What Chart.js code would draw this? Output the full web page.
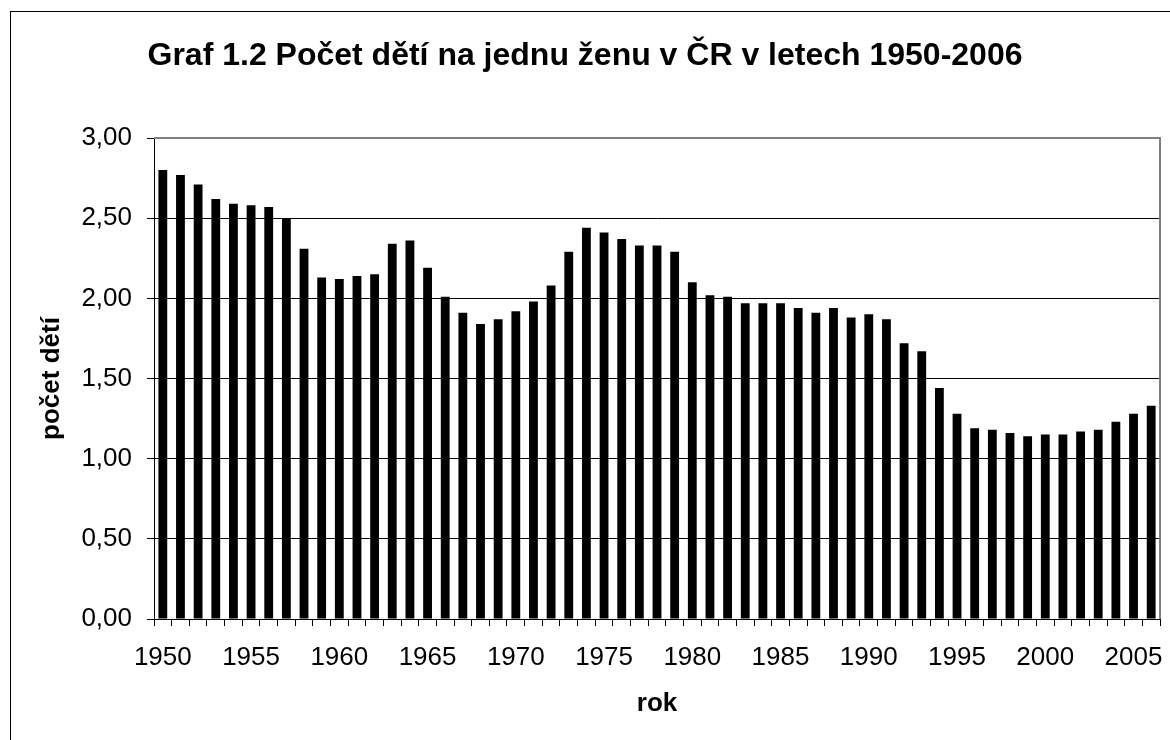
<!DOCTYPE html>
<html>
<head>
<meta charset="utf-8">
<script src="https://cdn.jsdelivr.net/npm/chart.js@4"></script>
<style>
  html, body { margin: 0; padding: 0; background: #fff; overflow: hidden; }
  #frame { position: absolute; left: 10px; top: 11px; width: 2000px; height: 2000px; border: 1px solid #000; box-sizing: border-box; }
  #c { position: absolute; left: 0; top: 0; }
</style>
</head>
<body>
<div id="frame"></div>
<canvas id="c" width="1170" height="740"></canvas>
<script>
const titleText = "Graf 1.2 Počet dětí na jednu ženu v ČR v letech 1950-2006";
const yTitle = "počet dětí";
const xTitle = "rok";
const years = ["1950","1951","1952","1953","1954","1955","1956","1957","1958","1959",
  "1960","1961","1962","1963","1964","1965","1966","1967","1968","1969",
  "1970","1971","1972","1973","1974","1975","1976","1977","1978","1979",
  "1980","1981","1982","1983","1984","1985","1986","1987","1988","1989",
  "1990","1991","1992","1993","1994","1995","1996","1997","1998","1999",
  "2000","2001","2002","2003","2004","2005","2006"];
const children = [2.80,2.77,2.71,2.62,2.59,2.58,2.57,2.50,2.31,2.13,
  2.12,2.14,2.15,2.34,2.36,2.19,2.01,1.91,1.84,1.87,
  1.92,1.98,2.08,2.29,2.44,2.41,2.37,2.33,2.33,2.29,
  2.10,2.02,2.01,1.97,1.97,1.97,1.94,1.91,1.94,1.88,
  1.90,1.87,1.72,1.67,1.44,1.28,1.19,1.18,1.16,1.14,
  1.15,1.15,1.17,1.18,1.23,1.28,1.33];
const xTickLabels = ["1950","1955","1960","1965","1970","1975","1980","1985","1990","1995","2000","2005"];
const yTicks = [0, 0.5, 1, 1.5, 2, 2.5, 3];

const FONT = "'Liberation Sans', Arial, sans-serif";

const plotFrame = {
  id: 'plotFrame',
  afterDraw(chart) {
    const a = chart.chartArea, ctx = chart.ctx;
    ctx.save();
    ctx.strokeStyle = '#808080';
    ctx.lineWidth = 2;
    ctx.beginPath();
    ctx.moveTo(a.left, a.top);
    ctx.lineTo(a.right, a.top);
    ctx.lineTo(a.right, a.bottom);
    ctx.stroke();
    ctx.restore();
  }
};

new Chart(document.getElementById('c'), {
  type: 'bar',
  data: {
    labels: years,
    datasets: [{
      data: children,
      backgroundColor: '#000',
      borderWidth: 0,
      barPercentage: 0.5,
      categoryPercentage: 1.0
    }]
  },
  options: {
    responsive: false,
    animation: false,
    devicePixelRatio: 1,
    layout: { padding: { left: 10, right: 10, top: 0, bottom: 0 } },
    plugins: {
      legend: { display: false },
      tooltip: { enabled: false },
      title: {
        display: true,
        text: titleText,
        color: '#000',
        font: { family: FONT, size: 32, weight: 'bold', lineHeight: 1.2 },
        padding: { top: 37, bottom: 62.6 }
      }
    },
    scales: {
      x: {
        grid: { display: true, offset: true, drawOnChartArea: false, tickLength: 7, color: '#000', tickColor: '#000' },
        border: { display: true, color: '#000', width: 1 },
        ticks: {
          autoSkip: false, maxRotation: 0, minRotation: 0,
          color: '#000', padding: 16,
          font: { family: FONT, size: 26 },
          callback: function(v) { const l = this.getLabelForValue(v); return xTickLabels.includes(l) ? l : ''; }
        },
        title: {
          display: true, text: xTitle, color: '#000',
          font: { family: FONT, size: 26, weight: 'bold', lineHeight: 1.2 },
          padding: { top: 0, bottom: 21 }
        },
        afterFit(s) { s.height = 121; }
      },
      y: {
        min: 0, max: 3,
        afterBuildTicks(s) { s.ticks = yTicks.map(v => ({ value: v })); },
        grid: {
          color: ctx => (ctx.tick && ctx.tick.value === 3) ? '#808080' : '#000',
          tickColor: '#000', tickLength: 7, lineWidth: 1
        },
        border: { display: true, color: '#000', width: 1 },
        ticks: {
          color: '#000', padding: 15,
          font: { family: FONT, size: 26 },
          callback: v => v.toFixed(2).replace('.', ',')
        },
        title: {
          display: true, text: yTitle, color: '#000',
          font: { family: FONT, size: 26, weight: 'bold', lineHeight: 1.2 },
          padding: { top: 26, bottom: 0 }
        },
        afterFit(s) { s.width = 144; }
      }
    }
  },
  plugins: [plotFrame]
});
</script>
</body>
</html>
